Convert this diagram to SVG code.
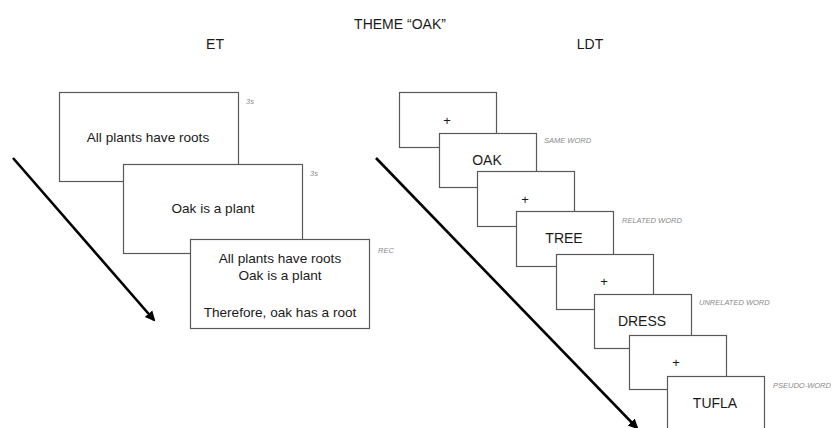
<svg xmlns="http://www.w3.org/2000/svg" width="832" height="428" viewBox="0 0 832 428">
<style>
text{font-family:"Liberation Sans",Arial,sans-serif;fill:#1a1a1a}
.t{font-size:14px}
.m{font-size:13.6px;text-anchor:middle}
.w{font-size:14px;text-anchor:middle}
.p{font-size:13px;text-anchor:middle}
.l{font-size:7.5px;font-style:italic;fill:#8a8a8a}
.box{fill:#fff;stroke:#595959;stroke-width:1.2}
.arr{stroke:#000;stroke-width:2.6;fill:none;marker-end:url(#ah)}
</style>
<defs>
<marker id="ah" markerWidth="5" markerHeight="5" refX="3.2" refY="2.5" orient="auto" markerUnits="strokeWidth">
<path d="M0,0.6 L4,2.5 L0,4.4 Z" fill="#000"/>
</marker>
</defs>
<rect width="832" height="428" fill="#fff"/>
<g id="titles">
<text class="t" x="400" y="29" text-anchor="middle">THEME “OAK”</text>
<text class="t" x="215" y="49" text-anchor="middle">ET</text>
<text class="t" x="590" y="49" text-anchor="middle">LDT</text>
</g>
<g id="connectors">
<line class="arr" x1="13" y1="158" x2="154" y2="320"/>
<line class="arr" x1="376" y1="158" x2="637" y2="428"/>
</g>
<g id="et1">
<rect class="box" x="59.5" y="92.5" width="179" height="89"/>
<text class="m" x="148" y="142">All plants have roots</text>
<text class="l" x="246" y="104">3s</text>
</g>
<g id="et2">
<rect class="box" x="123.5" y="164.5" width="179" height="89"/>
<text class="m" x="213" y="213">Oak is a plant</text>
<text class="l" x="310" y="176">3s</text>
</g>
<g id="et3">
<rect class="box" x="190.5" y="239.5" width="179" height="89"/>
<text class="m" x="280" y="263">All plants have roots</text>
<text class="m" x="280" y="280">Oak is a plant</text>
<text class="m" x="280" y="317">Therefore, oak has a root</text>
<text class="l" x="378" y="253">REC</text>
</g>
<g id="ldt1">
<rect class="box" x="399.5" y="92.5" width="97" height="55"/>
<text class="p" x="447" y="124.5">+</text>
</g>
<g id="ldt2">
<rect class="box" x="439.5" y="133.5" width="97" height="54"/>
<text class="w" x="487" y="165">OAK</text>
<text class="l" x="544" y="143">SAME WORD</text>
</g>
<g id="ldt3">
<rect class="box" x="477.5" y="171.5" width="97" height="55"/>
<text class="p" x="525" y="203.5">+</text>
</g>
<g id="ldt4">
<rect class="box" x="516.5" y="211.5" width="97" height="55"/>
<text class="w" x="564" y="243">TREE</text>
<text class="l" x="622" y="223">RELATED WORD</text>
</g>
<g id="ldt5">
<rect class="box" x="556.5" y="254.5" width="97" height="55"/>
<text class="p" x="604" y="285.5">+</text>
</g>
<g id="ldt6">
<rect class="box" x="594.5" y="294.5" width="97" height="54"/>
<text class="w" x="642" y="326">DRESS</text>
<text class="l" x="699" y="305">UNRELATED WORD</text>
</g>
<g id="ldt7">
<rect class="box" x="629.5" y="335.5" width="97" height="54"/>
<text class="p" x="676" y="367">+</text>
</g>
<g id="ldt8">
<rect class="box" x="667.5" y="376.5" width="97" height="60"/>
<text class="w" x="715" y="408">TUFLA</text>
<text class="l" x="773" y="388">PSEUDO-WORD</text>
</g>
</svg>
